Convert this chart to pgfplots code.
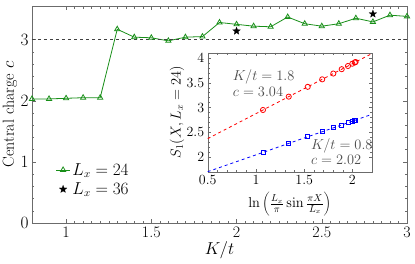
\documentclass[border=0pt]{standalone}
\usepackage{pgfplots}
\pgfplotsset{compat=1.18}
\definecolor{cgreen}{rgb}{0.1,0.56,0.1}
\definecolor{frame}{gray}{0.42}
\definecolor{anno}{gray}{0.3}
\pgfdeclareplotmark{fstar}{%
  \pgfpathmoveto{\pgfpointpolar{90}{\pgfplotmarksize}}%
  \pgfpathlineto{\pgfpointpolar{126}{0.42\pgfplotmarksize}}%
  \pgfpathlineto{\pgfpointpolar{162}{\pgfplotmarksize}}%
  \pgfpathlineto{\pgfpointpolar{198}{0.42\pgfplotmarksize}}%
  \pgfpathlineto{\pgfpointpolar{234}{\pgfplotmarksize}}%
  \pgfpathlineto{\pgfpointpolar{270}{0.42\pgfplotmarksize}}%
  \pgfpathlineto{\pgfpointpolar{306}{\pgfplotmarksize}}%
  \pgfpathlineto{\pgfpointpolar{342}{0.42\pgfplotmarksize}}%
  \pgfpathlineto{\pgfpointpolar{18}{\pgfplotmarksize}}%
  \pgfpathlineto{\pgfpointpolar{54}{0.42\pgfplotmarksize}}%
  \pgfpathclose\pgfusepathqfillstroke}
\begin{document}
\begin{tikzpicture}
\useasboundingbox (-32pt,-40pt) rectangle (383pt,223pt);
\begin{axis}[
  at={(0pt,0pt)}, anchor=south west,
  scale only axis, width=375pt, height=217pt,
  xmin=0.8, xmax=3, ymin=0, ymax=3.55,
  xtick={1,1.5,2,2.5,3}, ytick={0,1,2,3},
  xticklabels={1,1.5,2,2.5,3},
  minor x tick num=9, minor y tick num=4,
  tick align=inside, axis line style={frame},
  every tick/.style={frame},
  major tick length=4pt, minor tick length=2.5pt,
  tick label style={font=\fontsize{16}{18}\selectfont},
  label style={font=\fontsize{16}{18}\selectfont},
  xlabel={$K/t$},
  xlabel style={at={(axis description cs:0.5,-0.125)}, anchor=center},
  ylabel={Central charge $c$},
  ylabel style={at={(axis description cs:-0.059,0.5)}, anchor=center},
  legend style={at={(axis description cs:0.06,0.29)}, anchor=north west, draw=none, fill=none,
    font=\fontsize{16}{18}\selectfont, row sep=2pt, inner sep=1pt},
  legend cell align=left,
  legend image code/.code={\draw[mark repeat=2,mark phase=2,#1] plot coordinates {(0pt,0pt) (7pt,0pt) (14pt,0pt)};},
]
\addplot[cgreen, thick, mark=triangle, mark size=3pt, mark options={solid, thick}] coordinates {
(0.8,2.03) (0.9,2.03) (1.0,2.04) (1.1,2.05) (1.2,2.05) (1.3,3.17) (1.4,3.04) (1.5,3.03)
(1.6,2.98) (1.7,3.04) (1.8,3.05) (1.9,3.28) (2.0,3.25) (2.1,3.22) (2.2,3.21) (2.3,3.37)
(2.4,3.26) (2.5,3.22) (2.6,3.26) (2.7,3.35) (2.8,3.29) (2.9,3.40) (3.0,3.38)};
\addlegendentry{$L_x=24$}
\addplot[black, only marks, mark=fstar, mark size=4pt, mark options={line width=0.2pt}] coordinates {(2.0,3.14) (2.8,3.42)};
\addlegendentry{$L_x=36$}
\addplot[black!75, dashed, thin, forget plot] coordinates {(0.8,3) (3,3)};
\end{axis}
\begin{axis}[
  at={(175.7pt,51.3pt)}, anchor=south west,
  scale only axis, width=164pt, height=119pt,
  xmin=0.5, xmax=2.2, ymin=1.7, ymax=4.11,
  xtick={0.5,1,1.5,2}, ytick={2,2.5,3,3.5,4},
  xticklabels={0.5,1,1.5,2}, yticklabels={2,2.5,3,3.5,4},
  minor x tick num=4, minor y tick num=4,
  tick align=inside, axis line style={frame},
  every tick/.style={frame},
  major tick length=3pt, minor tick length=2pt,
  axis background/.style={fill=white},
  tick label style={font=\fontsize{14}{16}\selectfont},
  label style={font=\fontsize{14}{16}\selectfont},
  xlabel={$\ln\left(\frac{L_x}{\pi}\sin\frac{\pi X}{L_x}\right)$},
  xlabel style={at={(axis description cs:0.5,-0.27)}, anchor=center},
  ylabel={$S_1(X,L_x=24)$},
  ylabel style={at={(axis description cs:-0.187,0.5)}, anchor=center},
]
\addplot[red, dashed, thick] coordinates {(0.5,2.37) (2.2,4.09)};
\addplot[blue, dashed, thick] coordinates {(0.5,1.70) (2.2,2.86)};
\addplot[red, only marks, mark=o, mark size=2.6pt, mark options={thick}] coordinates {
(1.073,2.950) (1.340,3.220) (1.537,3.419) (1.687,3.571) (1.802,3.688) (1.889,3.776)
(1.954,3.841) (1.999,3.887) (2.025,3.913) (2.033,3.921)};
\addplot[blue, only marks, mark=square, mark size=2pt, mark options={thick}] coordinates {
(1.073,2.090) (1.340,2.273) (1.537,2.407) (1.687,2.510) (1.802,2.588) (1.889,2.647)
(1.954,2.692) (1.999,2.722) (2.025,2.740) (2.033,2.745)};
\node[anchor=west, text=anno, font=\fontsize{13.5}{15}\selectfont, inner sep=0pt] at (axis cs:0.76,3.62) {$K/t=1.8$};
\node[anchor=west, text=anno, font=\fontsize{13.5}{15}\selectfont, inner sep=0pt] at (axis cs:0.76,3.31) {$c=3.04$};
\node[anchor=west, text=anno, font=\fontsize{13.5}{15}\selectfont, inner sep=0pt] at (axis cs:1.57,2.23) {$K/t=0.8$};
\node[anchor=west, text=anno, font=\fontsize{13.5}{15}\selectfont, inner sep=0pt] at (axis cs:1.57,1.94) {$c=2.02$};
\end{axis}
\end{tikzpicture}
\end{document}
